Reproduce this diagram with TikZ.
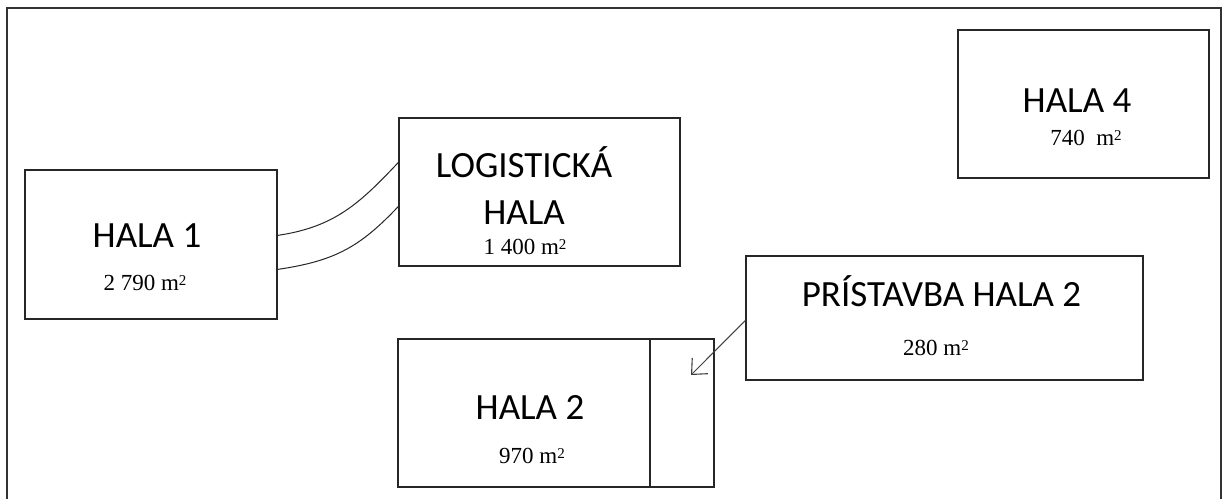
\documentclass[tikz,border=0pt]{standalone}
\usepackage{fontspec}
\setmainfont{Liberation Serif}
\newfontfamily\titlefont{Carlito}
\usetikzlibrary{arrows.meta,calc}

% square metres with a low, compact exponent
\newcommand{\sqmetre}{m\raisebox{5pt}{\fontsize{15}{15}\selectfont 2}}

\tikzset{
  hall/.style={draw=black!85, line width=1.2pt, inner sep=0pt, fill=none},
  title/.style={anchor=base, inner sep=0pt, text depth=0pt, font=\titlefont\fontsize{37}{40}\selectfont},
  area/.style={anchor=base, inner sep=0pt, font=\fontsize{23}{26}\selectfont},
  link/.style={draw=black!85, line width=1pt},
  pointer/.style={draw=black!75, line width=1pt, -{Straight Barb[length=12pt,width=22pt,line width=1.1pt]}},
}

\begin{document}
\begin{tikzpicture}[x=1pt, y=-1pt]
  \useasboundingbox (0,0) rectangle (1227,499);
  \fill[white] (0,0) rectangle (1227,499);

  % site frame (open at the bottom)
  \draw[black!80, line width=1.8pt] (7,499) -- (7,8) -- (1221,8) -- (1221,499);

  % halls
  \node[hall, minimum width=252pt, minimum height=149pt] (h1) at (151,244.5) {};
  \node[hall, minimum width=281pt, minimum height=148pt] (log) at (539.5,192) {};
  \node[hall, minimum width=251pt, minimum height=148pt] (h4) at (1083.5,104) {};
  \node[hall, minimum width=397pt, minimum height=124pt] (ext) at (944.5,318) {};
  \node[hall, minimum width=316pt, minimum height=148pt] (h2) at (556,413) {};

  % extension part of HALA 2
  \draw[black!85, line width=1.2pt] (h2.north west -| 650,0) coordinate (dtop) -- (h2.south west -| 650,0) coordinate (dbot);

  % labels
  \node[title] (t1) at (147,247) {HALA 1};
  \node[area]  (a1) at (145,290) {2 790 \sqmetre};
  \node[title] (tl1) at (524,177) {LOGISTICKÁ};
  \node[title] (tl2) at (524,224) {HALA};
  \node[area]  (al) at (525,254) {1 400 \sqmetre};
  \node[title] (t4) at (1077,112) {HALA 4};
  \node[area]  (a4) at (1086,145) {740\ \ \sqmetre};
  \node[title] (te) at (941.5,306) {PRÍSTAVBA HALA 2};
  \node[area]  (ae) at (936,355) {280 \sqmetre};
  \node[title] (t2) at (530,419) {HALA 2};
  \node[area]  (a2) at (532,463) {970 \sqmetre};

  % connecting corridors between HALA 1 and the logistics hall
  \coordinate (c1a) at ($(h1.north east)+(0,66)$);
  \coordinate (c1b) at ($(log.north west)+(0,45)$);
  \coordinate (c2a) at ($(h1.north east)+(0,100)$);
  \coordinate (c2b) at ($(log.north west)+(0,89)$);
  \draw[link] (c1a) .. controls (335,227) and (360,203) .. (c1b);
  \draw[link] (c2a) .. controls (335,261) and (360,247) .. (c2b);

  % pointer from the extension label to its part of HALA 2
  \coordinate (src) at ($(ext.north west)+(0,65)$);
  \coordinate (tip) at (691,375);
  \draw[pointer] (src) -- (tip);
\end{tikzpicture}
\end{document}
